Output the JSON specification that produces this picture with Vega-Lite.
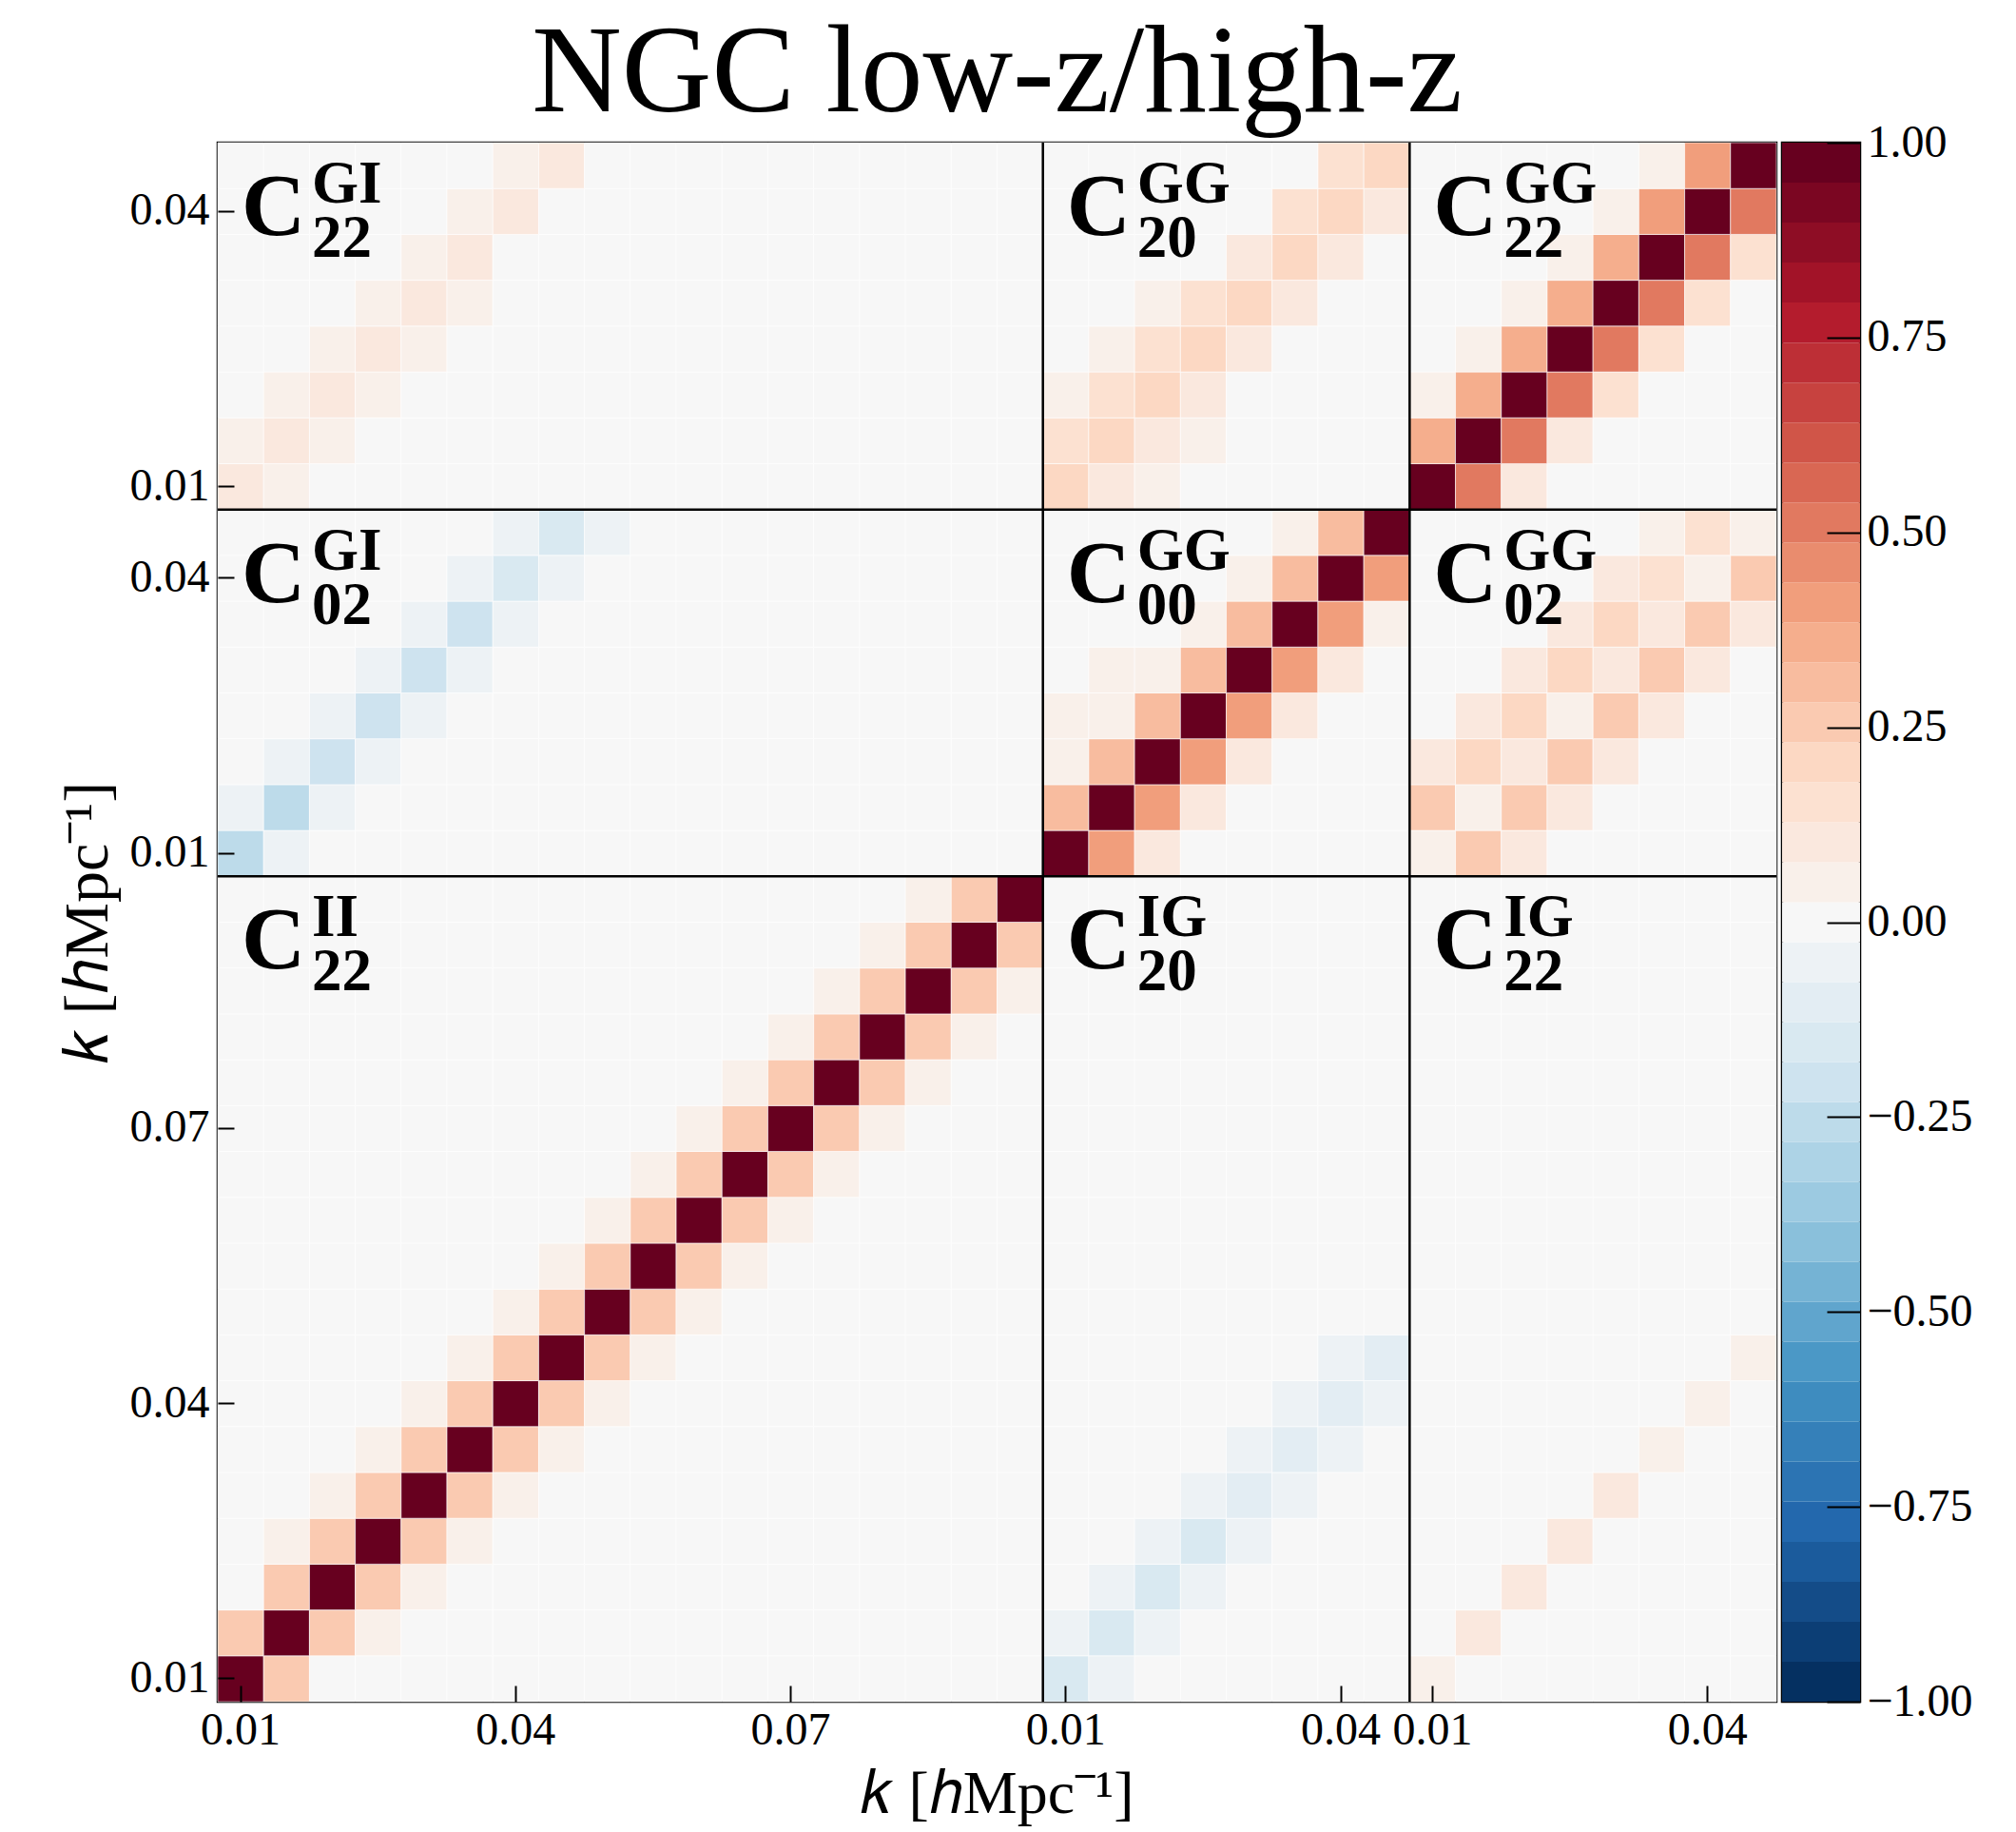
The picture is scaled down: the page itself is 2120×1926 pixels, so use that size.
{
"$schema":"https://vega.github.io/schema/vega-lite/v6.json",
"padding":{"left":57,"top":10,"right":0,"bottom":0},
"bounds":"flush",
"spacing":6,
"config":{"font":"Liberation Serif","view":{"stroke":"#000","strokeWidth":2.5},"axis":{"labelColor":"#000","titleColor":"#000","tickColor":"#000","labelFont":"Liberation Serif","titleFont":"Liberation Serif"},"text":{"font":"Liberation Serif"},"title":{"font":"Liberation Serif"}},
"resolve":{"scale":{"color":"independent"}},
"datasets":{
"labels":[{"c":0,"r":33,"sup":"GI","sub":"22"},{"c":18,"r":33,"sup":"GG","sub":"20"},{"c":26,"r":33,"sup":"GG","sub":"22"},{"c":0,"r":25,"sup":"GI","sub":"02"},{"c":18,"r":25,"sup":"GG","sub":"00"},{"c":26,"r":25,"sup":"GG","sub":"02"},{"c":0,"r":17,"sup":"II","sub":"22"},{"c":18,"r":17,"sup":"IG","sub":"20"},{"c":26,"r":17,"sup":"IG","sub":"22"}],
"vlines":[{"c":18},{"c":26}],
"hlines":[{"r":25},{"r":17}],
"bar":[{"lo":-1,"hi":-0.94872,"v":-0.97436},{"lo":-0.94872,"hi":-0.89744,"v":-0.92308},{"lo":-0.89744,"hi":-0.84615,"v":-0.87179},{"lo":-0.84615,"hi":-0.79487,"v":-0.82051},{"lo":-0.79487,"hi":-0.74359,"v":-0.76923},{"lo":-0.74359,"hi":-0.69231,"v":-0.71795},{"lo":-0.69231,"hi":-0.64103,"v":-0.66667},{"lo":-0.64103,"hi":-0.58974,"v":-0.61538},{"lo":-0.58974,"hi":-0.53846,"v":-0.5641},{"lo":-0.53846,"hi":-0.48718,"v":-0.51282},{"lo":-0.48718,"hi":-0.4359,"v":-0.46154},{"lo":-0.4359,"hi":-0.38462,"v":-0.41026},{"lo":-0.38462,"hi":-0.33333,"v":-0.35897},{"lo":-0.33333,"hi":-0.28205,"v":-0.30769},{"lo":-0.28205,"hi":-0.23077,"v":-0.25641},{"lo":-0.23077,"hi":-0.17949,"v":-0.20513},{"lo":-0.17949,"hi":-0.12821,"v":-0.15385},{"lo":-0.12821,"hi":-0.07692,"v":-0.10256},{"lo":-0.07692,"hi":-0.02564,"v":-0.05128},{"lo":-0.02564,"hi":0.02564,"v":0},{"lo":0.02564,"hi":0.07692,"v":0.05128},{"lo":0.07692,"hi":0.12821,"v":0.10256},{"lo":0.12821,"hi":0.17949,"v":0.15385},{"lo":0.17949,"hi":0.23077,"v":0.20513},{"lo":0.23077,"hi":0.28205,"v":0.25641},{"lo":0.28205,"hi":0.33333,"v":0.30769},{"lo":0.33333,"hi":0.38462,"v":0.35897},{"lo":0.38462,"hi":0.4359,"v":0.41026},{"lo":0.4359,"hi":0.48718,"v":0.46154},{"lo":0.48718,"hi":0.53846,"v":0.51282},{"lo":0.53846,"hi":0.58974,"v":0.5641},{"lo":0.58974,"hi":0.64103,"v":0.61538},{"lo":0.64103,"hi":0.69231,"v":0.66667},{"lo":0.69231,"hi":0.74359,"v":0.71795},{"lo":0.74359,"hi":0.79487,"v":0.76923},{"lo":0.79487,"hi":0.84615,"v":0.82051},{"lo":0.84615,"hi":0.89744,"v":0.87179},{"lo":0.89744,"hi":0.94872,"v":0.92308},{"lo":0.94872,"hi":1,"v":0.97436}],
"cells":[
{"r":0,"c":0,"v":1},{"r":0,"c":1,"v":0.26},{"r":0,"c":2,"v":0},{"r":0,"c":3,"v":0},{"r":0,"c":4,"v":0},{"r":0,"c":5,"v":0},{"r":0,"c":6,"v":0},{"r":0,"c":7,"v":0},{"r":0,"c":8,"v":0},{"r":0,"c":9,"v":0},{"r":0,"c":10,"v":0},{"r":0,"c":11,"v":0},{"r":0,"c":12,"v":0},{"r":0,"c":13,"v":0},{"r":0,"c":14,"v":0},{"r":0,"c":15,"v":0},{"r":0,"c":16,"v":0},{"r":0,"c":17,"v":0},{"r":0,"c":18,"v":-0.15},{"r":0,"c":19,"v":-0.05},{"r":0,"c":20,"v":0},{"r":0,"c":21,"v":0},{"r":0,"c":22,"v":0},{"r":0,"c":23,"v":0},{"r":0,"c":24,"v":0},{"r":0,"c":25,"v":0},{"r":0,"c":26,"v":0.05},{"r":0,"c":27,"v":0},{"r":0,"c":28,"v":0},{"r":0,"c":29,"v":0},{"r":0,"c":30,"v":0},{"r":0,"c":31,"v":0},{"r":0,"c":32,"v":0},{"r":0,"c":33,"v":0},
{"r":1,"c":0,"v":0.26},{"r":1,"c":1,"v":1},{"r":1,"c":2,"v":0.26},{"r":1,"c":3,"v":0.05},{"r":1,"c":4,"v":0},{"r":1,"c":5,"v":0},{"r":1,"c":6,"v":0},{"r":1,"c":7,"v":0},{"r":1,"c":8,"v":0},{"r":1,"c":9,"v":0},{"r":1,"c":10,"v":0},{"r":1,"c":11,"v":0},{"r":1,"c":12,"v":0},{"r":1,"c":13,"v":0},{"r":1,"c":14,"v":0},{"r":1,"c":15,"v":0},{"r":1,"c":16,"v":0},{"r":1,"c":17,"v":0},{"r":1,"c":18,"v":-0.05},{"r":1,"c":19,"v":-0.15},{"r":1,"c":20,"v":-0.05},{"r":1,"c":21,"v":0},{"r":1,"c":22,"v":0},{"r":1,"c":23,"v":0},{"r":1,"c":24,"v":0},{"r":1,"c":25,"v":0},{"r":1,"c":26,"v":0},{"r":1,"c":27,"v":0.1},{"r":1,"c":28,"v":0},{"r":1,"c":29,"v":0},{"r":1,"c":30,"v":0},{"r":1,"c":31,"v":0},{"r":1,"c":32,"v":0},{"r":1,"c":33,"v":0},
{"r":2,"c":0,"v":0},{"r":2,"c":1,"v":0.26},{"r":2,"c":2,"v":1},{"r":2,"c":3,"v":0.26},{"r":2,"c":4,"v":0.05},{"r":2,"c":5,"v":0},{"r":2,"c":6,"v":0},{"r":2,"c":7,"v":0},{"r":2,"c":8,"v":0},{"r":2,"c":9,"v":0},{"r":2,"c":10,"v":0},{"r":2,"c":11,"v":0},{"r":2,"c":12,"v":0},{"r":2,"c":13,"v":0},{"r":2,"c":14,"v":0},{"r":2,"c":15,"v":0},{"r":2,"c":16,"v":0},{"r":2,"c":17,"v":0},{"r":2,"c":18,"v":0},{"r":2,"c":19,"v":-0.05},{"r":2,"c":20,"v":-0.15},{"r":2,"c":21,"v":-0.05},{"r":2,"c":22,"v":0},{"r":2,"c":23,"v":0},{"r":2,"c":24,"v":0},{"r":2,"c":25,"v":0},{"r":2,"c":26,"v":0},{"r":2,"c":27,"v":0},{"r":2,"c":28,"v":0.1},{"r":2,"c":29,"v":0},{"r":2,"c":30,"v":0},{"r":2,"c":31,"v":0},{"r":2,"c":32,"v":0},{"r":2,"c":33,"v":0},
{"r":3,"c":0,"v":0},{"r":3,"c":1,"v":0.05},{"r":3,"c":2,"v":0.26},{"r":3,"c":3,"v":1},{"r":3,"c":4,"v":0.26},{"r":3,"c":5,"v":0.05},{"r":3,"c":6,"v":0},{"r":3,"c":7,"v":0},{"r":3,"c":8,"v":0},{"r":3,"c":9,"v":0},{"r":3,"c":10,"v":0},{"r":3,"c":11,"v":0},{"r":3,"c":12,"v":0},{"r":3,"c":13,"v":0},{"r":3,"c":14,"v":0},{"r":3,"c":15,"v":0},{"r":3,"c":16,"v":0},{"r":3,"c":17,"v":0},{"r":3,"c":18,"v":0},{"r":3,"c":19,"v":0},{"r":3,"c":20,"v":-0.05},{"r":3,"c":21,"v":-0.15},{"r":3,"c":22,"v":-0.05},{"r":3,"c":23,"v":0},{"r":3,"c":24,"v":0},{"r":3,"c":25,"v":0},{"r":3,"c":26,"v":0},{"r":3,"c":27,"v":0},{"r":3,"c":28,"v":0},{"r":3,"c":29,"v":0.1},{"r":3,"c":30,"v":0},{"r":3,"c":31,"v":0},{"r":3,"c":32,"v":0},{"r":3,"c":33,"v":0},
{"r":4,"c":0,"v":0},{"r":4,"c":1,"v":0},{"r":4,"c":2,"v":0.05},{"r":4,"c":3,"v":0.26},{"r":4,"c":4,"v":1},{"r":4,"c":5,"v":0.26},{"r":4,"c":6,"v":0.05},{"r":4,"c":7,"v":0},{"r":4,"c":8,"v":0},{"r":4,"c":9,"v":0},{"r":4,"c":10,"v":0},{"r":4,"c":11,"v":0},{"r":4,"c":12,"v":0},{"r":4,"c":13,"v":0},{"r":4,"c":14,"v":0},{"r":4,"c":15,"v":0},{"r":4,"c":16,"v":0},{"r":4,"c":17,"v":0},{"r":4,"c":18,"v":0},{"r":4,"c":19,"v":0},{"r":4,"c":20,"v":0},{"r":4,"c":21,"v":-0.05},{"r":4,"c":22,"v":-0.1},{"r":4,"c":23,"v":-0.05},{"r":4,"c":24,"v":0},{"r":4,"c":25,"v":0},{"r":4,"c":26,"v":0},{"r":4,"c":27,"v":0},{"r":4,"c":28,"v":0},{"r":4,"c":29,"v":0},{"r":4,"c":30,"v":0.1},{"r":4,"c":31,"v":0},{"r":4,"c":32,"v":0},{"r":4,"c":33,"v":0},
{"r":5,"c":0,"v":0},{"r":5,"c":1,"v":0},{"r":5,"c":2,"v":0},{"r":5,"c":3,"v":0.05},{"r":5,"c":4,"v":0.26},{"r":5,"c":5,"v":1},{"r":5,"c":6,"v":0.26},{"r":5,"c":7,"v":0.05},{"r":5,"c":8,"v":0},{"r":5,"c":9,"v":0},{"r":5,"c":10,"v":0},{"r":5,"c":11,"v":0},{"r":5,"c":12,"v":0},{"r":5,"c":13,"v":0},{"r":5,"c":14,"v":0},{"r":5,"c":15,"v":0},{"r":5,"c":16,"v":0},{"r":5,"c":17,"v":0},{"r":5,"c":18,"v":0},{"r":5,"c":19,"v":0},{"r":5,"c":20,"v":0},{"r":5,"c":21,"v":0},{"r":5,"c":22,"v":-0.05},{"r":5,"c":23,"v":-0.1},{"r":5,"c":24,"v":-0.05},{"r":5,"c":25,"v":0},{"r":5,"c":26,"v":0},{"r":5,"c":27,"v":0},{"r":5,"c":28,"v":0},{"r":5,"c":29,"v":0},{"r":5,"c":30,"v":0},{"r":5,"c":31,"v":0.05},{"r":5,"c":32,"v":0},{"r":5,"c":33,"v":0},
{"r":6,"c":0,"v":0},{"r":6,"c":1,"v":0},{"r":6,"c":2,"v":0},{"r":6,"c":3,"v":0},{"r":6,"c":4,"v":0.05},{"r":6,"c":5,"v":0.26},{"r":6,"c":6,"v":1},{"r":6,"c":7,"v":0.26},{"r":6,"c":8,"v":0.05},{"r":6,"c":9,"v":0},{"r":6,"c":10,"v":0},{"r":6,"c":11,"v":0},{"r":6,"c":12,"v":0},{"r":6,"c":13,"v":0},{"r":6,"c":14,"v":0},{"r":6,"c":15,"v":0},{"r":6,"c":16,"v":0},{"r":6,"c":17,"v":0},{"r":6,"c":18,"v":0},{"r":6,"c":19,"v":0},{"r":6,"c":20,"v":0},{"r":6,"c":21,"v":0},{"r":6,"c":22,"v":0},{"r":6,"c":23,"v":-0.05},{"r":6,"c":24,"v":-0.1},{"r":6,"c":25,"v":-0.05},{"r":6,"c":26,"v":0},{"r":6,"c":27,"v":0},{"r":6,"c":28,"v":0},{"r":6,"c":29,"v":0},{"r":6,"c":30,"v":0},{"r":6,"c":31,"v":0},{"r":6,"c":32,"v":0.05},{"r":6,"c":33,"v":0},
{"r":7,"c":0,"v":0},{"r":7,"c":1,"v":0},{"r":7,"c":2,"v":0},{"r":7,"c":3,"v":0},{"r":7,"c":4,"v":0},{"r":7,"c":5,"v":0.05},{"r":7,"c":6,"v":0.26},{"r":7,"c":7,"v":1},{"r":7,"c":8,"v":0.26},{"r":7,"c":9,"v":0.05},{"r":7,"c":10,"v":0},{"r":7,"c":11,"v":0},{"r":7,"c":12,"v":0},{"r":7,"c":13,"v":0},{"r":7,"c":14,"v":0},{"r":7,"c":15,"v":0},{"r":7,"c":16,"v":0},{"r":7,"c":17,"v":0},{"r":7,"c":18,"v":0},{"r":7,"c":19,"v":0},{"r":7,"c":20,"v":0},{"r":7,"c":21,"v":0},{"r":7,"c":22,"v":0},{"r":7,"c":23,"v":0},{"r":7,"c":24,"v":-0.05},{"r":7,"c":25,"v":-0.1},{"r":7,"c":26,"v":0},{"r":7,"c":27,"v":0},{"r":7,"c":28,"v":0},{"r":7,"c":29,"v":0},{"r":7,"c":30,"v":0},{"r":7,"c":31,"v":0},{"r":7,"c":32,"v":0},{"r":7,"c":33,"v":0.05},
{"r":8,"c":0,"v":0},{"r":8,"c":1,"v":0},{"r":8,"c":2,"v":0},{"r":8,"c":3,"v":0},{"r":8,"c":4,"v":0},{"r":8,"c":5,"v":0},{"r":8,"c":6,"v":0.05},{"r":8,"c":7,"v":0.26},{"r":8,"c":8,"v":1},{"r":8,"c":9,"v":0.26},{"r":8,"c":10,"v":0.05},{"r":8,"c":11,"v":0},{"r":8,"c":12,"v":0},{"r":8,"c":13,"v":0},{"r":8,"c":14,"v":0},{"r":8,"c":15,"v":0},{"r":8,"c":16,"v":0},{"r":8,"c":17,"v":0},{"r":8,"c":18,"v":0},{"r":8,"c":19,"v":0},{"r":8,"c":20,"v":0},{"r":8,"c":21,"v":0},{"r":8,"c":22,"v":0},{"r":8,"c":23,"v":0},{"r":8,"c":24,"v":0},{"r":8,"c":25,"v":0},{"r":8,"c":26,"v":0},{"r":8,"c":27,"v":0},{"r":8,"c":28,"v":0},{"r":8,"c":29,"v":0},{"r":8,"c":30,"v":0},{"r":8,"c":31,"v":0},{"r":8,"c":32,"v":0},{"r":8,"c":33,"v":0},
{"r":9,"c":0,"v":0},{"r":9,"c":1,"v":0},{"r":9,"c":2,"v":0},{"r":9,"c":3,"v":0},{"r":9,"c":4,"v":0},{"r":9,"c":5,"v":0},{"r":9,"c":6,"v":0},{"r":9,"c":7,"v":0.05},{"r":9,"c":8,"v":0.26},{"r":9,"c":9,"v":1},{"r":9,"c":10,"v":0.26},{"r":9,"c":11,"v":0.05},{"r":9,"c":12,"v":0},{"r":9,"c":13,"v":0},{"r":9,"c":14,"v":0},{"r":9,"c":15,"v":0},{"r":9,"c":16,"v":0},{"r":9,"c":17,"v":0},{"r":9,"c":18,"v":0},{"r":9,"c":19,"v":0},{"r":9,"c":20,"v":0},{"r":9,"c":21,"v":0},{"r":9,"c":22,"v":0},{"r":9,"c":23,"v":0},{"r":9,"c":24,"v":0},{"r":9,"c":25,"v":0},{"r":9,"c":26,"v":0},{"r":9,"c":27,"v":0},{"r":9,"c":28,"v":0},{"r":9,"c":29,"v":0},{"r":9,"c":30,"v":0},{"r":9,"c":31,"v":0},{"r":9,"c":32,"v":0},{"r":9,"c":33,"v":0},
{"r":10,"c":0,"v":0},{"r":10,"c":1,"v":0},{"r":10,"c":2,"v":0},{"r":10,"c":3,"v":0},{"r":10,"c":4,"v":0},{"r":10,"c":5,"v":0},{"r":10,"c":6,"v":0},{"r":10,"c":7,"v":0},{"r":10,"c":8,"v":0.05},{"r":10,"c":9,"v":0.26},{"r":10,"c":10,"v":1},{"r":10,"c":11,"v":0.26},{"r":10,"c":12,"v":0.05},{"r":10,"c":13,"v":0},{"r":10,"c":14,"v":0},{"r":10,"c":15,"v":0},{"r":10,"c":16,"v":0},{"r":10,"c":17,"v":0},{"r":10,"c":18,"v":0},{"r":10,"c":19,"v":0},{"r":10,"c":20,"v":0},{"r":10,"c":21,"v":0},{"r":10,"c":22,"v":0},{"r":10,"c":23,"v":0},{"r":10,"c":24,"v":0},{"r":10,"c":25,"v":0},{"r":10,"c":26,"v":0},{"r":10,"c":27,"v":0},{"r":10,"c":28,"v":0},{"r":10,"c":29,"v":0},{"r":10,"c":30,"v":0},{"r":10,"c":31,"v":0},{"r":10,"c":32,"v":0},{"r":10,"c":33,"v":0},
{"r":11,"c":0,"v":0},{"r":11,"c":1,"v":0},{"r":11,"c":2,"v":0},{"r":11,"c":3,"v":0},{"r":11,"c":4,"v":0},{"r":11,"c":5,"v":0},{"r":11,"c":6,"v":0},{"r":11,"c":7,"v":0},{"r":11,"c":8,"v":0},{"r":11,"c":9,"v":0.05},{"r":11,"c":10,"v":0.26},{"r":11,"c":11,"v":1},{"r":11,"c":12,"v":0.26},{"r":11,"c":13,"v":0.05},{"r":11,"c":14,"v":0},{"r":11,"c":15,"v":0},{"r":11,"c":16,"v":0},{"r":11,"c":17,"v":0},{"r":11,"c":18,"v":0},{"r":11,"c":19,"v":0},{"r":11,"c":20,"v":0},{"r":11,"c":21,"v":0},{"r":11,"c":22,"v":0},{"r":11,"c":23,"v":0},{"r":11,"c":24,"v":0},{"r":11,"c":25,"v":0},{"r":11,"c":26,"v":0},{"r":11,"c":27,"v":0},{"r":11,"c":28,"v":0},{"r":11,"c":29,"v":0},{"r":11,"c":30,"v":0},{"r":11,"c":31,"v":0},{"r":11,"c":32,"v":0},{"r":11,"c":33,"v":0},
{"r":12,"c":0,"v":0},{"r":12,"c":1,"v":0},{"r":12,"c":2,"v":0},{"r":12,"c":3,"v":0},{"r":12,"c":4,"v":0},{"r":12,"c":5,"v":0},{"r":12,"c":6,"v":0},{"r":12,"c":7,"v":0},{"r":12,"c":8,"v":0},{"r":12,"c":9,"v":0},{"r":12,"c":10,"v":0.05},{"r":12,"c":11,"v":0.26},{"r":12,"c":12,"v":1},{"r":12,"c":13,"v":0.26},{"r":12,"c":14,"v":0.05},{"r":12,"c":15,"v":0},{"r":12,"c":16,"v":0},{"r":12,"c":17,"v":0},{"r":12,"c":18,"v":0},{"r":12,"c":19,"v":0},{"r":12,"c":20,"v":0},{"r":12,"c":21,"v":0},{"r":12,"c":22,"v":0},{"r":12,"c":23,"v":0},{"r":12,"c":24,"v":0},{"r":12,"c":25,"v":0},{"r":12,"c":26,"v":0},{"r":12,"c":27,"v":0},{"r":12,"c":28,"v":0},{"r":12,"c":29,"v":0},{"r":12,"c":30,"v":0},{"r":12,"c":31,"v":0},{"r":12,"c":32,"v":0},{"r":12,"c":33,"v":0},
{"r":13,"c":0,"v":0},{"r":13,"c":1,"v":0},{"r":13,"c":2,"v":0},{"r":13,"c":3,"v":0},{"r":13,"c":4,"v":0},{"r":13,"c":5,"v":0},{"r":13,"c":6,"v":0},{"r":13,"c":7,"v":0},{"r":13,"c":8,"v":0},{"r":13,"c":9,"v":0},{"r":13,"c":10,"v":0},{"r":13,"c":11,"v":0.05},{"r":13,"c":12,"v":0.26},{"r":13,"c":13,"v":1},{"r":13,"c":14,"v":0.26},{"r":13,"c":15,"v":0.05},{"r":13,"c":16,"v":0},{"r":13,"c":17,"v":0},{"r":13,"c":18,"v":0},{"r":13,"c":19,"v":0},{"r":13,"c":20,"v":0},{"r":13,"c":21,"v":0},{"r":13,"c":22,"v":0},{"r":13,"c":23,"v":0},{"r":13,"c":24,"v":0},{"r":13,"c":25,"v":0},{"r":13,"c":26,"v":0},{"r":13,"c":27,"v":0},{"r":13,"c":28,"v":0},{"r":13,"c":29,"v":0},{"r":13,"c":30,"v":0},{"r":13,"c":31,"v":0},{"r":13,"c":32,"v":0},{"r":13,"c":33,"v":0},
{"r":14,"c":0,"v":0},{"r":14,"c":1,"v":0},{"r":14,"c":2,"v":0},{"r":14,"c":3,"v":0},{"r":14,"c":4,"v":0},{"r":14,"c":5,"v":0},{"r":14,"c":6,"v":0},{"r":14,"c":7,"v":0},{"r":14,"c":8,"v":0},{"r":14,"c":9,"v":0},{"r":14,"c":10,"v":0},{"r":14,"c":11,"v":0},{"r":14,"c":12,"v":0.05},{"r":14,"c":13,"v":0.26},{"r":14,"c":14,"v":1},{"r":14,"c":15,"v":0.26},{"r":14,"c":16,"v":0.05},{"r":14,"c":17,"v":0},{"r":14,"c":18,"v":0},{"r":14,"c":19,"v":0},{"r":14,"c":20,"v":0},{"r":14,"c":21,"v":0},{"r":14,"c":22,"v":0},{"r":14,"c":23,"v":0},{"r":14,"c":24,"v":0},{"r":14,"c":25,"v":0},{"r":14,"c":26,"v":0},{"r":14,"c":27,"v":0},{"r":14,"c":28,"v":0},{"r":14,"c":29,"v":0},{"r":14,"c":30,"v":0},{"r":14,"c":31,"v":0},{"r":14,"c":32,"v":0},{"r":14,"c":33,"v":0},
{"r":15,"c":0,"v":0},{"r":15,"c":1,"v":0},{"r":15,"c":2,"v":0},{"r":15,"c":3,"v":0},{"r":15,"c":4,"v":0},{"r":15,"c":5,"v":0},{"r":15,"c":6,"v":0},{"r":15,"c":7,"v":0},{"r":15,"c":8,"v":0},{"r":15,"c":9,"v":0},{"r":15,"c":10,"v":0},{"r":15,"c":11,"v":0},{"r":15,"c":12,"v":0},{"r":15,"c":13,"v":0.05},{"r":15,"c":14,"v":0.26},{"r":15,"c":15,"v":1},{"r":15,"c":16,"v":0.26},{"r":15,"c":17,"v":0.05},{"r":15,"c":18,"v":0},{"r":15,"c":19,"v":0},{"r":15,"c":20,"v":0},{"r":15,"c":21,"v":0},{"r":15,"c":22,"v":0},{"r":15,"c":23,"v":0},{"r":15,"c":24,"v":0},{"r":15,"c":25,"v":0},{"r":15,"c":26,"v":0},{"r":15,"c":27,"v":0},{"r":15,"c":28,"v":0},{"r":15,"c":29,"v":0},{"r":15,"c":30,"v":0},{"r":15,"c":31,"v":0},{"r":15,"c":32,"v":0},{"r":15,"c":33,"v":0},
{"r":16,"c":0,"v":0},{"r":16,"c":1,"v":0},{"r":16,"c":2,"v":0},{"r":16,"c":3,"v":0},{"r":16,"c":4,"v":0},{"r":16,"c":5,"v":0},{"r":16,"c":6,"v":0},{"r":16,"c":7,"v":0},{"r":16,"c":8,"v":0},{"r":16,"c":9,"v":0},{"r":16,"c":10,"v":0},{"r":16,"c":11,"v":0},{"r":16,"c":12,"v":0},{"r":16,"c":13,"v":0},{"r":16,"c":14,"v":0.05},{"r":16,"c":15,"v":0.26},{"r":16,"c":16,"v":1},{"r":16,"c":17,"v":0.26},{"r":16,"c":18,"v":0},{"r":16,"c":19,"v":0},{"r":16,"c":20,"v":0},{"r":16,"c":21,"v":0},{"r":16,"c":22,"v":0},{"r":16,"c":23,"v":0},{"r":16,"c":24,"v":0},{"r":16,"c":25,"v":0},{"r":16,"c":26,"v":0},{"r":16,"c":27,"v":0},{"r":16,"c":28,"v":0},{"r":16,"c":29,"v":0},{"r":16,"c":30,"v":0},{"r":16,"c":31,"v":0},{"r":16,"c":32,"v":0},{"r":16,"c":33,"v":0},
{"r":17,"c":0,"v":0},{"r":17,"c":1,"v":0},{"r":17,"c":2,"v":0},{"r":17,"c":3,"v":0},{"r":17,"c":4,"v":0},{"r":17,"c":5,"v":0},{"r":17,"c":6,"v":0},{"r":17,"c":7,"v":0},{"r":17,"c":8,"v":0},{"r":17,"c":9,"v":0},{"r":17,"c":10,"v":0},{"r":17,"c":11,"v":0},{"r":17,"c":12,"v":0},{"r":17,"c":13,"v":0},{"r":17,"c":14,"v":0},{"r":17,"c":15,"v":0.05},{"r":17,"c":16,"v":0.26},{"r":17,"c":17,"v":1},{"r":17,"c":18,"v":0},{"r":17,"c":19,"v":0},{"r":17,"c":20,"v":0},{"r":17,"c":21,"v":0},{"r":17,"c":22,"v":0},{"r":17,"c":23,"v":0},{"r":17,"c":24,"v":0},{"r":17,"c":25,"v":0},{"r":17,"c":26,"v":0},{"r":17,"c":27,"v":0},{"r":17,"c":28,"v":0},{"r":17,"c":29,"v":0},{"r":17,"c":30,"v":0},{"r":17,"c":31,"v":0},{"r":17,"c":32,"v":0},{"r":17,"c":33,"v":0},
{"r":18,"c":0,"v":-0.26},{"r":18,"c":1,"v":-0.05},{"r":18,"c":2,"v":0},{"r":18,"c":3,"v":0},{"r":18,"c":4,"v":0},{"r":18,"c":5,"v":0},{"r":18,"c":6,"v":0},{"r":18,"c":7,"v":0},{"r":18,"c":8,"v":0},{"r":18,"c":9,"v":0},{"r":18,"c":10,"v":0},{"r":18,"c":11,"v":0},{"r":18,"c":12,"v":0},{"r":18,"c":13,"v":0},{"r":18,"c":14,"v":0},{"r":18,"c":15,"v":0},{"r":18,"c":16,"v":0},{"r":18,"c":17,"v":0},{"r":18,"c":18,"v":1},{"r":18,"c":19,"v":0.41},{"r":18,"c":20,"v":0.1},{"r":18,"c":21,"v":0},{"r":18,"c":22,"v":0},{"r":18,"c":23,"v":0},{"r":18,"c":24,"v":0},{"r":18,"c":25,"v":0},{"r":18,"c":26,"v":0.05},{"r":18,"c":27,"v":0.26},{"r":18,"c":28,"v":0.1},{"r":18,"c":29,"v":0},{"r":18,"c":30,"v":0},{"r":18,"c":31,"v":0},{"r":18,"c":32,"v":0},{"r":18,"c":33,"v":0},
{"r":19,"c":0,"v":-0.05},{"r":19,"c":1,"v":-0.26},{"r":19,"c":2,"v":-0.05},{"r":19,"c":3,"v":0},{"r":19,"c":4,"v":0},{"r":19,"c":5,"v":0},{"r":19,"c":6,"v":0},{"r":19,"c":7,"v":0},{"r":19,"c":8,"v":0},{"r":19,"c":9,"v":0},{"r":19,"c":10,"v":0},{"r":19,"c":11,"v":0},{"r":19,"c":12,"v":0},{"r":19,"c":13,"v":0},{"r":19,"c":14,"v":0},{"r":19,"c":15,"v":0},{"r":19,"c":16,"v":0},{"r":19,"c":17,"v":0},{"r":19,"c":18,"v":0.31},{"r":19,"c":19,"v":1},{"r":19,"c":20,"v":0.41},{"r":19,"c":21,"v":0.1},{"r":19,"c":22,"v":0},{"r":19,"c":23,"v":0},{"r":19,"c":24,"v":0},{"r":19,"c":25,"v":0},{"r":19,"c":26,"v":0.26},{"r":19,"c":27,"v":0.05},{"r":19,"c":28,"v":0.26},{"r":19,"c":29,"v":0.1},{"r":19,"c":30,"v":0},{"r":19,"c":31,"v":0},{"r":19,"c":32,"v":0},{"r":19,"c":33,"v":0},
{"r":20,"c":0,"v":0},{"r":20,"c":1,"v":-0.05},{"r":20,"c":2,"v":-0.21},{"r":20,"c":3,"v":-0.05},{"r":20,"c":4,"v":0},{"r":20,"c":5,"v":0},{"r":20,"c":6,"v":0},{"r":20,"c":7,"v":0},{"r":20,"c":8,"v":0},{"r":20,"c":9,"v":0},{"r":20,"c":10,"v":0},{"r":20,"c":11,"v":0},{"r":20,"c":12,"v":0},{"r":20,"c":13,"v":0},{"r":20,"c":14,"v":0},{"r":20,"c":15,"v":0},{"r":20,"c":16,"v":0},{"r":20,"c":17,"v":0},{"r":20,"c":18,"v":0.05},{"r":20,"c":19,"v":0.31},{"r":20,"c":20,"v":1},{"r":20,"c":21,"v":0.41},{"r":20,"c":22,"v":0.1},{"r":20,"c":23,"v":0},{"r":20,"c":24,"v":0},{"r":20,"c":25,"v":0},{"r":20,"c":26,"v":0.1},{"r":20,"c":27,"v":0.21},{"r":20,"c":28,"v":0.1},{"r":20,"c":29,"v":0.26},{"r":20,"c":30,"v":0.1},{"r":20,"c":31,"v":0},{"r":20,"c":32,"v":0},{"r":20,"c":33,"v":0},
{"r":21,"c":0,"v":0},{"r":21,"c":1,"v":0},{"r":21,"c":2,"v":-0.05},{"r":21,"c":3,"v":-0.21},{"r":21,"c":4,"v":-0.05},{"r":21,"c":5,"v":0},{"r":21,"c":6,"v":0},{"r":21,"c":7,"v":0},{"r":21,"c":8,"v":0},{"r":21,"c":9,"v":0},{"r":21,"c":10,"v":0},{"r":21,"c":11,"v":0},{"r":21,"c":12,"v":0},{"r":21,"c":13,"v":0},{"r":21,"c":14,"v":0},{"r":21,"c":15,"v":0},{"r":21,"c":16,"v":0},{"r":21,"c":17,"v":0},{"r":21,"c":18,"v":0.05},{"r":21,"c":19,"v":0.05},{"r":21,"c":20,"v":0.31},{"r":21,"c":21,"v":1},{"r":21,"c":22,"v":0.41},{"r":21,"c":23,"v":0.1},{"r":21,"c":24,"v":0},{"r":21,"c":25,"v":0},{"r":21,"c":26,"v":0},{"r":21,"c":27,"v":0.1},{"r":21,"c":28,"v":0.21},{"r":21,"c":29,"v":0.05},{"r":21,"c":30,"v":0.26},{"r":21,"c":31,"v":0.1},{"r":21,"c":32,"v":0},{"r":21,"c":33,"v":0},
{"r":22,"c":0,"v":0},{"r":22,"c":1,"v":0},{"r":22,"c":2,"v":0},{"r":22,"c":3,"v":-0.05},{"r":22,"c":4,"v":-0.21},{"r":22,"c":5,"v":-0.05},{"r":22,"c":6,"v":0},{"r":22,"c":7,"v":0},{"r":22,"c":8,"v":0},{"r":22,"c":9,"v":0},{"r":22,"c":10,"v":0},{"r":22,"c":11,"v":0},{"r":22,"c":12,"v":0},{"r":22,"c":13,"v":0},{"r":22,"c":14,"v":0},{"r":22,"c":15,"v":0},{"r":22,"c":16,"v":0},{"r":22,"c":17,"v":0},{"r":22,"c":18,"v":0},{"r":22,"c":19,"v":0.05},{"r":22,"c":20,"v":0.05},{"r":22,"c":21,"v":0.31},{"r":22,"c":22,"v":1},{"r":22,"c":23,"v":0.41},{"r":22,"c":24,"v":0.1},{"r":22,"c":25,"v":0},{"r":22,"c":26,"v":0},{"r":22,"c":27,"v":0},{"r":22,"c":28,"v":0.1},{"r":22,"c":29,"v":0.21},{"r":22,"c":30,"v":0.1},{"r":22,"c":31,"v":0.26},{"r":22,"c":32,"v":0.1},{"r":22,"c":33,"v":0},
{"r":23,"c":0,"v":0},{"r":23,"c":1,"v":0},{"r":23,"c":2,"v":0},{"r":23,"c":3,"v":0},{"r":23,"c":4,"v":-0.05},{"r":23,"c":5,"v":-0.21},{"r":23,"c":6,"v":-0.05},{"r":23,"c":7,"v":0},{"r":23,"c":8,"v":0},{"r":23,"c":9,"v":0},{"r":23,"c":10,"v":0},{"r":23,"c":11,"v":0},{"r":23,"c":12,"v":0},{"r":23,"c":13,"v":0},{"r":23,"c":14,"v":0},{"r":23,"c":15,"v":0},{"r":23,"c":16,"v":0},{"r":23,"c":17,"v":0},{"r":23,"c":18,"v":0},{"r":23,"c":19,"v":0},{"r":23,"c":20,"v":0},{"r":23,"c":21,"v":0.05},{"r":23,"c":22,"v":0.31},{"r":23,"c":23,"v":1},{"r":23,"c":24,"v":0.41},{"r":23,"c":25,"v":0.05},{"r":23,"c":26,"v":0},{"r":23,"c":27,"v":0},{"r":23,"c":28,"v":0},{"r":23,"c":29,"v":0.1},{"r":23,"c":30,"v":0.21},{"r":23,"c":31,"v":0.1},{"r":23,"c":32,"v":0.26},{"r":23,"c":33,"v":0.1},
{"r":24,"c":0,"v":0},{"r":24,"c":1,"v":0},{"r":24,"c":2,"v":0},{"r":24,"c":3,"v":0},{"r":24,"c":4,"v":0},{"r":24,"c":5,"v":-0.05},{"r":24,"c":6,"v":-0.15},{"r":24,"c":7,"v":-0.05},{"r":24,"c":8,"v":0},{"r":24,"c":9,"v":0},{"r":24,"c":10,"v":0},{"r":24,"c":11,"v":0},{"r":24,"c":12,"v":0},{"r":24,"c":13,"v":0},{"r":24,"c":14,"v":0},{"r":24,"c":15,"v":0},{"r":24,"c":16,"v":0},{"r":24,"c":17,"v":0},{"r":24,"c":18,"v":0},{"r":24,"c":19,"v":0},{"r":24,"c":20,"v":0},{"r":24,"c":21,"v":0},{"r":24,"c":22,"v":0.05},{"r":24,"c":23,"v":0.31},{"r":24,"c":24,"v":1},{"r":24,"c":25,"v":0.41},{"r":24,"c":26,"v":0},{"r":24,"c":27,"v":0},{"r":24,"c":28,"v":0},{"r":24,"c":29,"v":0},{"r":24,"c":30,"v":0.1},{"r":24,"c":31,"v":0.15},{"r":24,"c":32,"v":0.05},{"r":24,"c":33,"v":0.26},
{"r":25,"c":0,"v":0},{"r":25,"c":1,"v":0},{"r":25,"c":2,"v":0},{"r":25,"c":3,"v":0},{"r":25,"c":4,"v":0},{"r":25,"c":5,"v":0},{"r":25,"c":6,"v":-0.05},{"r":25,"c":7,"v":-0.15},{"r":25,"c":8,"v":-0.05},{"r":25,"c":9,"v":0},{"r":25,"c":10,"v":0},{"r":25,"c":11,"v":0},{"r":25,"c":12,"v":0},{"r":25,"c":13,"v":0},{"r":25,"c":14,"v":0},{"r":25,"c":15,"v":0},{"r":25,"c":16,"v":0},{"r":25,"c":17,"v":0},{"r":25,"c":18,"v":0},{"r":25,"c":19,"v":0},{"r":25,"c":20,"v":0},{"r":25,"c":21,"v":0},{"r":25,"c":22,"v":0},{"r":25,"c":23,"v":0.05},{"r":25,"c":24,"v":0.31},{"r":25,"c":25,"v":1},{"r":25,"c":26,"v":0},{"r":25,"c":27,"v":0},{"r":25,"c":28,"v":0},{"r":25,"c":29,"v":0},{"r":25,"c":30,"v":0},{"r":25,"c":31,"v":0.05},{"r":25,"c":32,"v":0.15},{"r":25,"c":33,"v":0.05},
{"r":26,"c":0,"v":0.1},{"r":26,"c":1,"v":0.05},{"r":26,"c":2,"v":0},{"r":26,"c":3,"v":0},{"r":26,"c":4,"v":0},{"r":26,"c":5,"v":0},{"r":26,"c":6,"v":0},{"r":26,"c":7,"v":0},{"r":26,"c":8,"v":0},{"r":26,"c":9,"v":0},{"r":26,"c":10,"v":0},{"r":26,"c":11,"v":0},{"r":26,"c":12,"v":0},{"r":26,"c":13,"v":0},{"r":26,"c":14,"v":0},{"r":26,"c":15,"v":0},{"r":26,"c":16,"v":0},{"r":26,"c":17,"v":0},{"r":26,"c":18,"v":0.21},{"r":26,"c":19,"v":0.1},{"r":26,"c":20,"v":0.05},{"r":26,"c":21,"v":0},{"r":26,"c":22,"v":0},{"r":26,"c":23,"v":0},{"r":26,"c":24,"v":0},{"r":26,"c":25,"v":0},{"r":26,"c":26,"v":1},{"r":26,"c":27,"v":0.51},{"r":26,"c":28,"v":0.1},{"r":26,"c":29,"v":0},{"r":26,"c":30,"v":0},{"r":26,"c":31,"v":0},{"r":26,"c":32,"v":0},{"r":26,"c":33,"v":0},
{"r":27,"c":0,"v":0.05},{"r":27,"c":1,"v":0.1},{"r":27,"c":2,"v":0.05},{"r":27,"c":3,"v":0},{"r":27,"c":4,"v":0},{"r":27,"c":5,"v":0},{"r":27,"c":6,"v":0},{"r":27,"c":7,"v":0},{"r":27,"c":8,"v":0},{"r":27,"c":9,"v":0},{"r":27,"c":10,"v":0},{"r":27,"c":11,"v":0},{"r":27,"c":12,"v":0},{"r":27,"c":13,"v":0},{"r":27,"c":14,"v":0},{"r":27,"c":15,"v":0},{"r":27,"c":16,"v":0},{"r":27,"c":17,"v":0},{"r":27,"c":18,"v":0.15},{"r":27,"c":19,"v":0.21},{"r":27,"c":20,"v":0.1},{"r":27,"c":21,"v":0.05},{"r":27,"c":22,"v":0},{"r":27,"c":23,"v":0},{"r":27,"c":24,"v":0},{"r":27,"c":25,"v":0},{"r":27,"c":26,"v":0.36},{"r":27,"c":27,"v":1},{"r":27,"c":28,"v":0.51},{"r":27,"c":29,"v":0.1},{"r":27,"c":30,"v":0},{"r":27,"c":31,"v":0},{"r":27,"c":32,"v":0},{"r":27,"c":33,"v":0},
{"r":28,"c":0,"v":0},{"r":28,"c":1,"v":0.05},{"r":28,"c":2,"v":0.1},{"r":28,"c":3,"v":0.05},{"r":28,"c":4,"v":0},{"r":28,"c":5,"v":0},{"r":28,"c":6,"v":0},{"r":28,"c":7,"v":0},{"r":28,"c":8,"v":0},{"r":28,"c":9,"v":0},{"r":28,"c":10,"v":0},{"r":28,"c":11,"v":0},{"r":28,"c":12,"v":0},{"r":28,"c":13,"v":0},{"r":28,"c":14,"v":0},{"r":28,"c":15,"v":0},{"r":28,"c":16,"v":0},{"r":28,"c":17,"v":0},{"r":28,"c":18,"v":0.05},{"r":28,"c":19,"v":0.15},{"r":28,"c":20,"v":0.21},{"r":28,"c":21,"v":0.1},{"r":28,"c":22,"v":0},{"r":28,"c":23,"v":0},{"r":28,"c":24,"v":0},{"r":28,"c":25,"v":0},{"r":28,"c":26,"v":0.05},{"r":28,"c":27,"v":0.36},{"r":28,"c":28,"v":1},{"r":28,"c":29,"v":0.51},{"r":28,"c":30,"v":0.15},{"r":28,"c":31,"v":0},{"r":28,"c":32,"v":0},{"r":28,"c":33,"v":0},
{"r":29,"c":0,"v":0},{"r":29,"c":1,"v":0},{"r":29,"c":2,"v":0.05},{"r":29,"c":3,"v":0.1},{"r":29,"c":4,"v":0.05},{"r":29,"c":5,"v":0},{"r":29,"c":6,"v":0},{"r":29,"c":7,"v":0},{"r":29,"c":8,"v":0},{"r":29,"c":9,"v":0},{"r":29,"c":10,"v":0},{"r":29,"c":11,"v":0},{"r":29,"c":12,"v":0},{"r":29,"c":13,"v":0},{"r":29,"c":14,"v":0},{"r":29,"c":15,"v":0},{"r":29,"c":16,"v":0},{"r":29,"c":17,"v":0},{"r":29,"c":18,"v":0},{"r":29,"c":19,"v":0.05},{"r":29,"c":20,"v":0.15},{"r":29,"c":21,"v":0.21},{"r":29,"c":22,"v":0.1},{"r":29,"c":23,"v":0},{"r":29,"c":24,"v":0},{"r":29,"c":25,"v":0},{"r":29,"c":26,"v":0},{"r":29,"c":27,"v":0.05},{"r":29,"c":28,"v":0.36},{"r":29,"c":29,"v":1},{"r":29,"c":30,"v":0.51},{"r":29,"c":31,"v":0.15},{"r":29,"c":32,"v":0},{"r":29,"c":33,"v":0},
{"r":30,"c":0,"v":0},{"r":30,"c":1,"v":0},{"r":30,"c":2,"v":0},{"r":30,"c":3,"v":0.05},{"r":30,"c":4,"v":0.1},{"r":30,"c":5,"v":0.05},{"r":30,"c":6,"v":0},{"r":30,"c":7,"v":0},{"r":30,"c":8,"v":0},{"r":30,"c":9,"v":0},{"r":30,"c":10,"v":0},{"r":30,"c":11,"v":0},{"r":30,"c":12,"v":0},{"r":30,"c":13,"v":0},{"r":30,"c":14,"v":0},{"r":30,"c":15,"v":0},{"r":30,"c":16,"v":0},{"r":30,"c":17,"v":0},{"r":30,"c":18,"v":0},{"r":30,"c":19,"v":0},{"r":30,"c":20,"v":0.05},{"r":30,"c":21,"v":0.15},{"r":30,"c":22,"v":0.21},{"r":30,"c":23,"v":0.1},{"r":30,"c":24,"v":0},{"r":30,"c":25,"v":0},{"r":30,"c":26,"v":0},{"r":30,"c":27,"v":0},{"r":30,"c":28,"v":0.05},{"r":30,"c":29,"v":0.36},{"r":30,"c":30,"v":1},{"r":30,"c":31,"v":0.51},{"r":30,"c":32,"v":0.15},{"r":30,"c":33,"v":0},
{"r":31,"c":0,"v":0},{"r":31,"c":1,"v":0},{"r":31,"c":2,"v":0},{"r":31,"c":3,"v":0},{"r":31,"c":4,"v":0.05},{"r":31,"c":5,"v":0.1},{"r":31,"c":6,"v":0},{"r":31,"c":7,"v":0},{"r":31,"c":8,"v":0},{"r":31,"c":9,"v":0},{"r":31,"c":10,"v":0},{"r":31,"c":11,"v":0},{"r":31,"c":12,"v":0},{"r":31,"c":13,"v":0},{"r":31,"c":14,"v":0},{"r":31,"c":15,"v":0},{"r":31,"c":16,"v":0},{"r":31,"c":17,"v":0},{"r":31,"c":18,"v":0},{"r":31,"c":19,"v":0},{"r":31,"c":20,"v":0},{"r":31,"c":21,"v":0},{"r":31,"c":22,"v":0.1},{"r":31,"c":23,"v":0.21},{"r":31,"c":24,"v":0.1},{"r":31,"c":25,"v":0},{"r":31,"c":26,"v":0},{"r":31,"c":27,"v":0},{"r":31,"c":28,"v":0},{"r":31,"c":29,"v":0.05},{"r":31,"c":30,"v":0.36},{"r":31,"c":31,"v":1},{"r":31,"c":32,"v":0.51},{"r":31,"c":33,"v":0.15},
{"r":32,"c":0,"v":0},{"r":32,"c":1,"v":0},{"r":32,"c":2,"v":0},{"r":32,"c":3,"v":0},{"r":32,"c":4,"v":0},{"r":32,"c":5,"v":0.05},{"r":32,"c":6,"v":0.1},{"r":32,"c":7,"v":0},{"r":32,"c":8,"v":0},{"r":32,"c":9,"v":0},{"r":32,"c":10,"v":0},{"r":32,"c":11,"v":0},{"r":32,"c":12,"v":0},{"r":32,"c":13,"v":0},{"r":32,"c":14,"v":0},{"r":32,"c":15,"v":0},{"r":32,"c":16,"v":0},{"r":32,"c":17,"v":0},{"r":32,"c":18,"v":0},{"r":32,"c":19,"v":0},{"r":32,"c":20,"v":0},{"r":32,"c":21,"v":0},{"r":32,"c":22,"v":0},{"r":32,"c":23,"v":0.15},{"r":32,"c":24,"v":0.21},{"r":32,"c":25,"v":0.1},{"r":32,"c":26,"v":0},{"r":32,"c":27,"v":0},{"r":32,"c":28,"v":0},{"r":32,"c":29,"v":0},{"r":32,"c":30,"v":0.05},{"r":32,"c":31,"v":0.41},{"r":32,"c":32,"v":1},{"r":32,"c":33,"v":0.51},
{"r":33,"c":0,"v":0},{"r":33,"c":1,"v":0},{"r":33,"c":2,"v":0},{"r":33,"c":3,"v":0},{"r":33,"c":4,"v":0},{"r":33,"c":5,"v":0},{"r":33,"c":6,"v":0.05},{"r":33,"c":7,"v":0.1},{"r":33,"c":8,"v":0},{"r":33,"c":9,"v":0},{"r":33,"c":10,"v":0},{"r":33,"c":11,"v":0},{"r":33,"c":12,"v":0},{"r":33,"c":13,"v":0},{"r":33,"c":14,"v":0},{"r":33,"c":15,"v":0},{"r":33,"c":16,"v":0},{"r":33,"c":17,"v":0},{"r":33,"c":18,"v":0},{"r":33,"c":19,"v":0},{"r":33,"c":20,"v":0},{"r":33,"c":21,"v":0},{"r":33,"c":22,"v":0},{"r":33,"c":23,"v":0},{"r":33,"c":24,"v":0.15},{"r":33,"c":25,"v":0.21},{"r":33,"c":26,"v":0},{"r":33,"c":27,"v":0},{"r":33,"c":28,"v":0},{"r":33,"c":29,"v":0},{"r":33,"c":30,"v":0},{"r":33,"c":31,"v":0.05},{"r":33,"c":32,"v":0.41},{"r":33,"c":33,"v":1}
]},
"hconcat":[
{
"width":1639,"height":1639,
"title":{"text":"NGC low-z/high-z","fontSize":131,"fontWeight":"normal","font":"Liberation Serif","anchor":"middle","frame":"group","baseline":"alphabetic","offset":-99,"color":"#000"},
"layer":[
{"data":{"name":"cells"},
"mark":{"type":"rect","stroke":"#ffffff","strokeWidth":1,"strokeOpacity":0.6},
"encoding":{
"x":{"field":"c","type":"ordinal","scale":{"domain":[0,1,2,3,4,5,6,7,8,9,10,11,12,13,14,15,16,17,18,19,20,21,22,23,24,25,26,27,28,29,30,31,32,33],"paddingInner":0,"paddingOuter":0},
"axis":{"values":[0,6,12,18,24,26,32],"labelExpr":"datum.value == 0 || datum.value == 18 || datum.value == 26 ? '0.01' : (datum.value == 12 ? '0.07' : '0.04')","labelAngle":0,"labelFontSize":48,"labelPadding":23,"labelOverlap":false,"tickSize":-17,"tickWidth":2,"domain":false,"grid":false,"zindex":1,"title":"𝑘 [ℎMpc⁻¹]","titleFontSize":64,"titleFontWeight":"normal","titlePadding":11}},
"y":{"field":"r","type":"ordinal","scale":{"domain":[33,32,31,30,29,28,27,26,25,24,23,22,21,20,19,18,17,16,15,14,13,12,11,10,9,8,7,6,5,4,3,2,1,0],"paddingInner":0,"paddingOuter":0},
"axis":{"values":[0,6,12,18,24,26,32],"labelExpr":"datum.value == 0 || datum.value == 18 || datum.value == 26 ? '0.01' : (datum.value == 12 ? '0.07' : '0.04')","labelFontSize":48,"labelPadding":26,"labelOverlap":false,"tickSize":-17,"tickWidth":2,"domain":false,"grid":false,"zindex":1,"title":"𝑘 [ℎMpc⁻¹]","titleFontSize":66,"titleFontWeight":"normal","titlePadding":10}},
"color":{"field":"v","type":"quantitative","scale":{"type":"quantize","domain":[-1,1],"nice":false,"zero":false,"range":["#053061","#0c3e75","#144c88","#1b5b9c","#2368ad","#2c74b3","#3580b9","#3e8cbf","#4b98c6","#60a5cd","#75b3d4","#8ac0db","#9ccae1","#add3e6","#bddbea","#cee3ef","#d9e9f1","#e3edf3","#edf2f5","#f7f7f7","#f9f0ea","#fae8de","#fce1d1","#fcd8c3","#facab1","#f8bc9f","#f5ae8d","#f19e7c","#e98c6e","#e17960","#d96753","#d05548","#c7423f","#bd2f36","#b41c2d","#a21328","#8e0d25","#7b0622","#67001f"]},"legend":null}
}},
{"data":{"name":"vlines"},
"mark":{"type":"rule","color":"#000","strokeWidth":2.5},
"encoding":{"x":{"field":"c","type":"ordinal","bandPosition":0,"scale":{"domain":[0,1,2,3,4,5,6,7,8,9,10,11,12,13,14,15,16,17,18,19,20,21,22,23,24,25,26,27,28,29,30,31,32,33],"paddingInner":0,"paddingOuter":0}}}},
{"data":{"name":"hlines"},
"mark":{"type":"rule","color":"#000","strokeWidth":2.5},
"encoding":{"y":{"field":"r","type":"ordinal","bandPosition":0,"scale":{"domain":[33,32,31,30,29,28,27,26,25,24,23,22,21,20,19,18,17,16,15,14,13,12,11,10,9,8,7,6,5,4,3,2,1,0],"paddingInner":0,"paddingOuter":0}}}},
{"data":{"name":"labels"},
"mark":{"type":"text","text":"C","align":"left","baseline":"alphabetic","dx":25,"dy":97,"fontSize":93,"fontWeight":"bold","color":"#000"},
"encoding":{"x":{"field":"c","type":"ordinal","bandPosition":0,"scale":{"domain":[0,1,2,3,4,5,6,7,8,9,10,11,12,13,14,15,16,17,18,19,20,21,22,23,24,25,26,27,28,29,30,31,32,33],"paddingInner":0,"paddingOuter":0}},
"y":{"field":"r","type":"ordinal","bandPosition":0,"scale":{"domain":[33,32,31,30,29,28,27,26,25,24,23,22,21,20,19,18,17,16,15,14,13,12,11,10,9,8,7,6,5,4,3,2,1,0],"paddingInner":0,"paddingOuter":0}}}},
{"data":{"name":"labels"},
"mark":{"type":"text","align":"left","baseline":"alphabetic","dx":99,"dy":63,"fontSize":63,"fontWeight":"bold","color":"#000"},
"encoding":{"text":{"field":"sup"},"x":{"field":"c","type":"ordinal","bandPosition":0,"scale":{"domain":[0,1,2,3,4,5,6,7,8,9,10,11,12,13,14,15,16,17,18,19,20,21,22,23,24,25,26,27,28,29,30,31,32,33],"paddingInner":0,"paddingOuter":0}},
"y":{"field":"r","type":"ordinal","bandPosition":0,"scale":{"domain":[33,32,31,30,29,28,27,26,25,24,23,22,21,20,19,18,17,16,15,14,13,12,11,10,9,8,7,6,5,4,3,2,1,0],"paddingInner":0,"paddingOuter":0}}}},
{"data":{"name":"labels"},
"mark":{"type":"text","align":"left","baseline":"alphabetic","dx":99,"dy":120,"fontSize":63,"fontWeight":"bold","color":"#000"},
"encoding":{"text":{"field":"sub"},"x":{"field":"c","type":"ordinal","bandPosition":0,"scale":{"domain":[0,1,2,3,4,5,6,7,8,9,10,11,12,13,14,15,16,17,18,19,20,21,22,23,24,25,26,27,28,29,30,31,32,33],"paddingInner":0,"paddingOuter":0}},
"y":{"field":"r","type":"ordinal","bandPosition":0,"scale":{"domain":[33,32,31,30,29,28,27,26,25,24,23,22,21,20,19,18,17,16,15,14,13,12,11,10,9,8,7,6,5,4,3,2,1,0],"paddingInner":0,"paddingOuter":0}}}}
]
},
{
"width":82,"height":1639,
"data":{"name":"bar"},
"mark":{"type":"rect"},
"encoding":{
"y":{"field":"lo","type":"quantitative","scale":{"domain":[-1,1],"nice":false,"zero":false},
"axis":{"orient":"right","values":[-1,-0.75,-0.5,-0.25,0,0.25,0.5,0.75,1],"labelExpr":"replace(format(datum.value, '.2f'), '-', '−')","tickSize":-35,"tickWidth":2,"labelPadding":42,"labelFontSize":48,"labelFlush":false,"labelOverlap":false,"domain":false,"grid":false,"title":null,"zindex":1}},
"y2":{"field":"hi"},
"color":{"field":"v","type":"quantitative","scale":{"type":"quantize","domain":[-1,1],"nice":false,"zero":false,"range":["#053061","#0c3e75","#144c88","#1b5b9c","#2368ad","#2c74b3","#3580b9","#3e8cbf","#4b98c6","#60a5cd","#75b3d4","#8ac0db","#9ccae1","#add3e6","#bddbea","#cee3ef","#d9e9f1","#e3edf3","#edf2f5","#f7f7f7","#f9f0ea","#fae8de","#fce1d1","#fcd8c3","#facab1","#f8bc9f","#f5ae8d","#f19e7c","#e98c6e","#e17960","#d96753","#d05548","#c7423f","#bd2f36","#b41c2d","#a21328","#8e0d25","#7b0622","#67001f"]},"legend":null}
}
}
]
}
